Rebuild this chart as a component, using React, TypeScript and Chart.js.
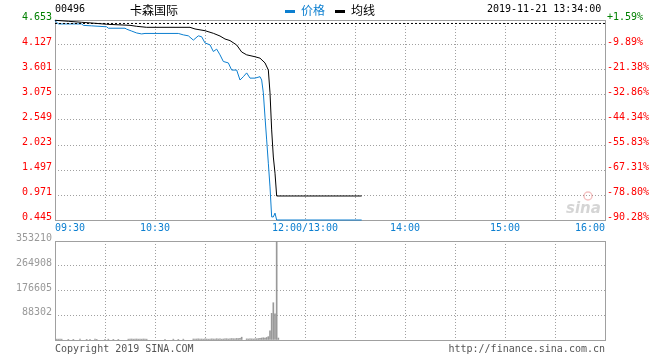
import { useEffect, useRef } from "react";
import { Chart, registerables } from "chart.js";

Chart.register(...registerables);

// ---------- data ----------
const stockCode = "00496";
const stockName = "卡森国际";
const timestampText = "2019-11-21 13:34:00";
const prevClose = 4.58;
const priceMin = 0.445;
const priceMax = 4.653;
const priceTicks = [4.653, 4.127, 3.601, 3.075, 2.549, 2.023, 1.497, 0.971, 0.445];
const pctLabels = ["+1.59%", "-9.89%", "-21.38%", "-32.86%", "-44.34%", "-55.83%", "-67.31%", "-78.80%", "-90.28%"];

// trading minutes since 09:30 (12:00 and 13:00 share minute 150)
const timeGrid = [0, 30, 60, 90, 120, 150, 180, 210, 240, 270, 300, 330];
const timeLabels = ["     09:30", "", "10:30", "", "", "12:00/13:00", "", "14:00", "", "15:00", "", "16:00     "];

const priceMinutes = [0, 2, 16, 17, 22, 31, 32, 42, 43, 46, 49, 52, 54, 74, 77, 80, 83, 86, 88, 90, 93, 95, 97, 99, 101, 104, 106, 109, 111, 113, 115, 117, 120, 123, 124, 125, 126, 127, 128, 129, 130, 131, 132, 133, 184];
const priceValues = [4.64, 4.57, 4.57, 4.54, 4.53, 4.51, 4.48, 4.48, 4.46, 4.42, 4.38, 4.36, 4.37, 4.37, 4.34, 4.32, 4.23, 4.32, 4.30, 4.17, 4.13, 3.99, 4.04, 3.92, 3.78, 3.75, 3.60, 3.60, 3.39, 3.46, 3.54, 3.43, 3.43, 3.46, 3.39, 3.12, 2.61, 2.13, 1.64, 1.14, 0.51, 0.51, 0.59, 0.445, 0.445];

const avgMinutes = [0, 8, 16, 24, 31, 45, 49, 55, 81, 84, 90, 95, 99, 102, 105, 109, 112, 115, 120, 123, 126, 128, 129, 130, 131, 132, 133, 184];
const avgValues = [4.647, 4.626, 4.605, 4.584, 4.563, 4.541, 4.520, 4.499, 4.499, 4.464, 4.428, 4.373, 4.316, 4.253, 4.22, 4.127, 3.98, 3.92, 3.88, 3.85, 3.75, 3.60, 3.12, 2.34, 1.77, 1.43, 0.95, 0.95];

const volMinutes = [1, 2, 3, 4, 8, 11, 15, 19, 21, 24, 25, 30, 32, 35, 38, 44, 45, 46, 47, 48, 49, 50, 51, 52, 53, 54, 55, 66, 71, 74, 77, 83, 84, 85, 86, 87, 88, 89, 90, 91, 92, 93, 94, 95, 96, 97, 98, 99, 100, 101, 102, 103, 104, 105, 106, 107, 108, 109, 110, 111, 112, 115, 116, 117, 118, 119, 120, 121, 122, 123, 124, 125, 126, 127, 128, 129, 130, 131, 132, 133, 134];
const volValues = [3000, 3000, 3000, 3000, 2500, 2500, 3000, 2500, 2500, 3000, 2500, 2500, 3000, 2500, 2500, 3000, 3000, 3500, 3000, 3000, 3500, 3000, 3000, 3000, 3500, 3000, 3000, 2500, 3000, 2500, 3000, 3500, 3000, 3500, 4000, 3000, 3500, 3000, 4000, 3500, 3000, 3500, 4000, 3500, 3000, 4500, 3500, 4000, 3000, 3500, 4000, 4500, 3500, 4000, 5000, 4500, 4000, 5500, 5000, 6000, 10000, 4000, 3500, 4500, 4000, 3500, 4000, 4500, 5000, 6000, 7000, 8000, 7000, 9000, 12000, 33000, 95000, 133000, 93000, 353210, 7000];
const volMax = 353210;
const volTicks = [0, 88302, 176605, 264908, 353210];
const volLabels = ["", "88302", "176605", "264908", "353210"];

// ---------- style ----------
const MONO = "'DejaVu Sans Mono', monospace";
const CJK = "'Noto Sans CJK SC', sans-serif";
const BLUE = "#0c7fd0";
const RED = "#ff0000";
const GREEN = "#008000";
const GRID = "#a0a0a0";
const FRAME = "#a0a0a0";

const framePlugin = {
  id: "frame",
  beforeDatasetsDraw(chart: any) {
    const { ctx, chartArea: a } = chart;
    ctx.save();
    ctx.strokeStyle = FRAME;
    ctx.lineWidth = 1;
    ctx.setLineDash([]);
    ctx.strokeRect(Math.floor(a.left) + 0.5, Math.floor(a.top) + 0.5, Math.round(a.right - a.left), Math.round(a.bottom - a.top));
    ctx.restore();
  },
};

const headerPlugin = {
  id: "header",
  afterDraw(chart: any) {
    const { ctx } = chart;
    ctx.save();
    ctx.textBaseline = "middle";
    ctx.fillStyle = "#000";
    ctx.font = `10px ${MONO}`;
    ctx.textAlign = "left";
    ctx.fillText(stockCode, 55, 9);
    ctx.font = `12px ${CJK}`;
    ctx.fillText(stockName, 130, 10);
    ctx.fillStyle = BLUE;
    ctx.fillRect(285, 10, 10, 3);
    ctx.fillText("价格", 301, 10);
    ctx.fillStyle = "#000";
    ctx.fillRect(335, 10, 10, 3);
    ctx.fillText("均线", 351, 10);
    ctx.font = `10px ${MONO}`;
    ctx.fillText(timestampText, 487, 9);
    // watermark
    ctx.globalAlpha = 0.35;
    ctx.strokeStyle = "#e05050";
    ctx.lineWidth = 1.5;
    ctx.beginPath();
    ctx.arc(588, 196, 4, 0, Math.PI * 2);
    ctx.stroke();
    ctx.fillStyle = "#888";
    ctx.font = `italic bold 15px 'DejaVu Sans', sans-serif`;
    ctx.fillText("sina", 566, 209);
    ctx.restore();
  },
};

const footerPlugin = {
  id: "footer",
  afterDraw(chart: any) {
    const { ctx } = chart;
    ctx.save();
    ctx.textBaseline = "middle";
    ctx.fillStyle = "#555";
    ctx.font = `10px ${MONO}`;
    ctx.textAlign = "left";
    ctx.fillText("Copyright 2019 SINA.COM", 55, 119);
    ctx.textAlign = "right";
    ctx.fillText("http://finance.sina.com.cn", 605, 119);
    ctx.restore();
  },
};

export default function App() {
  const priceRef = useRef<HTMLCanvasElement>(null);
  const volRef = useRef<HTMLCanvasElement>(null);

  useEffect(() => {
    const xCommon = (showLabels: boolean) => ({
      type: "linear" as const,
      min: 0,
      max: 330,
      offset: false,
      afterBuildTicks: (s: any) => {
        s.ticks = timeGrid.map((v) => ({ value: v }));
      },
      afterFit: (s: any) => {
        s.height = 20;
      },
      ticks: {
        display: showLabels,
        autoSkip: false,
        maxRotation: 0,
        minRotation: 0,
        padding: 2,
        color: BLUE,
        font: { family: MONO, size: 10 },
        callback: (_v: any, i: number) => timeLabels[i],
      },
      grid: { display: true, drawOnChartArea: true, color: GRID, lineWidth: 1, drawTicks: false, offset: false },
      border: { display: false, dash: [1, 2] },
    });

    const priceChart = new Chart(priceRef.current!, {
      type: "line",
      data: {
        datasets: [
          {
            label: "prev",
            data: [{ x: 0, y: prevClose }, { x: 330, y: prevClose }],
            borderColor: "#000",
            borderWidth: 1,
            borderDash: [2, 2],
            pointRadius: 0,
          },
          {
            label: "均线",
            data: avgMinutes.map((m, i) => ({ x: m, y: avgValues[i] })),
            borderColor: "#000",
            borderWidth: 1,
            pointRadius: 0,
            clip: false as any,
          },
          {
            label: "价格",
            data: priceMinutes.map((m, i) => ({ x: m, y: priceValues[i] })),
            borderColor: BLUE,
            borderWidth: 1,
            pointRadius: 0,
            clip: false as any,
          },
        ],
      },
      options: {
        animation: false,
        responsive: false,
        events: [],
        layout: { padding: { top: 20, left: 0, right: 0, bottom: 0 } },
        plugins: { legend: { display: false }, tooltip: { enabled: false } },
        scales: {
          x: xCommon(true) as any,
          y: {
            type: "linear",
            position: "left",
            min: priceMin,
            max: priceMax,
            afterBuildTicks: (s: any) => {
              s.ticks = priceTicks.map((v) => ({ value: v }));
            },
            afterFit: (s: any) => {
              s.width = 55;
            },
            ticks: {
              padding: 3,
              labelOffset: -2.5,
              font: { family: MONO, size: 10 },
              color: (c: any) => (c.tick && c.tick.value > prevClose ? GREEN : RED),
              callback: (v: any) => Number(v).toFixed(3),
            },
            grid: { display: true, drawOnChartArea: true, color: GRID, lineWidth: 1, drawTicks: false },
            border: { display: false, dash: [1, 2] },
          } as any,
          y1: {
            type: "linear",
            position: "right",
            min: priceMin,
            max: priceMax,
            afterBuildTicks: (s: any) => {
              s.ticks = priceTicks.map((v) => ({ value: v }));
            },
            afterFit: (s: any) => {
              s.width = 55;
            },
            ticks: {
              padding: 2,
              labelOffset: -2.5,
              font: { family: MONO, size: 10 },
              color: (c: any) => (c.index === 0 ? GREEN : RED),
              callback: (_v: any, i: number) => pctLabels[i],
            },
            grid: { display: false, drawTicks: false },
            border: { display: false },
          } as any,
        },
      },
      plugins: [framePlugin, headerPlugin],
    });

    const volChart = new Chart(volRef.current!, {
      type: "bar",
      data: {
        datasets: [
          {
            label: "vol",
            data: volMinutes.map((m, i) => ({ x: m, y: volValues[i] })) as any,
            backgroundColor: "#999999",
            borderWidth: 0,
            barThickness: 1,
          },
        ],
      },
      options: {
        animation: false,
        responsive: false,
        events: [],
        layout: { padding: { top: 11, left: 0, right: 55, bottom: 0 } },
        plugins: { legend: { display: false }, tooltip: { enabled: false } },
        scales: {
          x: xCommon(false) as any,
          y: {
            type: "linear",
            position: "left",
            min: 0,
            max: volMax,
            afterBuildTicks: (s: any) => {
              s.ticks = volTicks.map((v) => ({ value: v }));
            },
            afterFit: (s: any) => {
              s.width = 55;
            },
            ticks: {
              padding: 3,
              labelOffset: -2.5,
              font: { family: MONO, size: 10 },
              color: "#999999",
              callback: (_v: any, i: number) => volLabels[i],
            },
            grid: { display: true, drawOnChartArea: true, color: GRID, lineWidth: 1, drawTicks: false },
            border: { display: false, dash: [1, 2] },
          } as any,
        },
      },
      plugins: [framePlugin, footerPlugin],
    });

    return () => {
      priceChart.destroy();
      volChart.destroy();
    };
  }, []);

  return (
    <div style={{ position: "fixed", left: 0, top: 0, width: 660, height: 360, background: "#fff" }}>
      <canvas ref={priceRef} width={660} height={240} style={{ position: "absolute", left: 0, top: 0, width: 660, height: 240 }} />
      <canvas ref={volRef} width={660} height={130} style={{ position: "absolute", left: 0, top: 230, width: 660, height: 130 }} />
    </div>
  );
}
